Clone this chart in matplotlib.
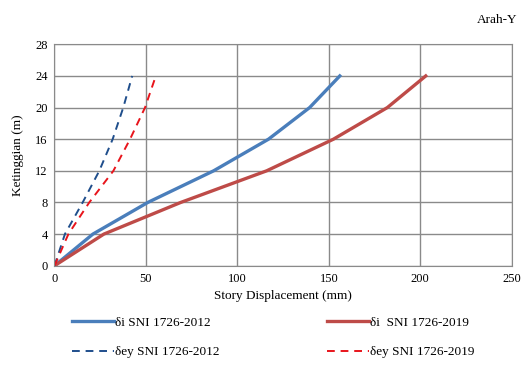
import matplotlib.pyplot as plt

# story heights (m)
height = [0, 4, 8, 12, 16, 20, 24]

# story displacement (mm)
di_2012 = [0, 21, 51, 87, 117, 139.5, 156]
di_2019 = [0, 27, 69, 116, 152.5, 182, 203]
dey_2012 = [0, 5.7, 15.4, 24.5, 31.8, 37.6, 42.5]
dey_2019 = [0, 7.6, 19, 32.2, 41.3, 49.5, 55.4]

xticks = [0, 50, 100, 150, 200, 250]
yticks = [0, 4, 8, 12, 16, 20, 24, 28]

plt.rcParams['font.family'] = ['Liberation Serif', 'DejaVu Serif']

fig = plt.figure(figsize=(5.25, 3.65), dpi=100)
ax = fig.add_axes([0.1038, 0.272, 0.8709, 0.6066])

ax.plot(di_2012, height, color='#4a7ebb', lw=2.4, label='δi SNI 1726-2012')
ax.plot(di_2019, height, color='#be4b48', lw=2.4, label='δi  SNI 1726-2019')
ax.plot(dey_2012, height, color='#1f4e8c', lw=1.4, ls=(0, (4, 3)), label='δey SNI 1726-2012')
ax.plot(dey_2019, height, color='#e8141b', lw=1.4, ls=(0, (4, 3)), label='δey SNI 1726-2019')

ax.set_xlim(0, 250)
ax.set_ylim(0, 28)
ax.set_xticks(xticks)
ax.set_yticks(yticks)
ax.grid(True, color='#8a8a8a', lw=1)
ax.set_axisbelow(True)
for s in ax.spines.values():
    s.set_color('#8a8a8a')
ax.tick_params(length=0, labelsize=9, pad=5)

ax.set_xlabel('Story Displacement (mm)', fontsize=9.5, labelpad=4)
ax.set_ylabel('Ketinggian (m)', fontsize=9.5, labelpad=8)
fig.text(0.985, 0.945, 'Arah-Y', ha='right', va='center', fontsize=9.5)

# legend: 2 columns, order down each column
h, l = ax.get_legend_handles_labels()
order = [0, 2, 1, 3]
fig.legend([h[i] for i in order], [l[i] for i in order], ncol=2,
           loc='center', bbox_to_anchor=(0.52, 0.075), frameon=False,
           fontsize=9.5, handlelength=3.2, handletextpad=0.1,
           columnspacing=8.1, labelspacing=1.3)

fig.savefig('out.png', dpi=100)
